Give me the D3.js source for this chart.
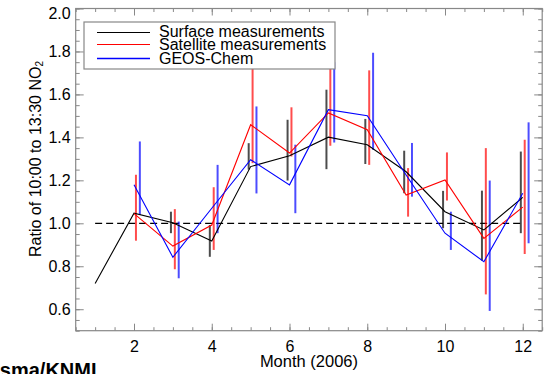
<!DOCTYPE html>
<html>
<head>
<meta charset="utf-8">
<script src="https://cdn.jsdelivr.net/npm/d3@7"></script>
<style>
  body { margin: 0; background: #fff; }
  svg text { font-family: "Liberation Sans", Arial, sans-serif; }
</style>
</head>
<body>
<div id="chart"></div>
<script>
// months on the x axis
var months = [1, 2, 3, 4, 5, 6, 7, 8, 9, 10, 11, 12];

// ratio 10:00 / 13:30 NO2
var surface = [0.72, 1.047, 1.003, 0.918, 1.264, 1.314, 1.401, 1.366, 1.24, 1.054, 0.969, 1.121];
var satellite = [null, 1.045, 0.894, 0.992, 1.459, 1.327, 1.514, 1.436, 1.132, 1.202, 0.93, 1.075];
var geosChem = [null, 1.179, 0.842, 1.07, 1.296, 1.179, 1.529, 1.501, 1.225, 0.954, 0.821, 1.14];

// error bars: low and high ends
var surfaceLo = [null, null, 0.954, 0.844, 1.25, 1.199, 1.252, 1.276, 1.14, 0.977, 0.826, 0.954];
var surfaceHi = [null, null, 1.054, 0.992, 1.373, 1.482, 1.622, 1.486, 1.338, 1.151, 1.152, 1.334];
var satelliteLo = [null, 0.919, 0.786, 0.876, 1.28, 1.311, 1.361, 1.272, 1.031, 1.106, 0.669, 0.857];
var satelliteHi = [null, 1.226, 1.066, 1.168, 1.739, 1.54, 1.726, 1.712, 1.257, 1.33, 1.35, 1.389];
var geosLo = [null, 1.039, 0.744, 0.954, 1.139, 1.047, 1.376, 1.342, 1.124, 0.876, 0.592, 0.907];
var geosHi = [null, 1.381, 1.008, 1.272, 1.544, 1.366, 1.75, 1.794, 1.374, 1.054, 1.199, 1.47];

var xMajor = [2, 4, 6, 8, 10, 12];
var yMajor = [0.6, 0.8, 1.0, 1.2, 1.4, 1.6, 1.8, 2.0];

var series = [
  { name: "Surface measurements", color: "#000000", values: surface, lo: surfaceLo, hi: surfaceHi, shift: -0.05 },
  { name: "Satellite measurements", color: "#ff0000", values: satellite, lo: satelliteLo, hi: satelliteHi, shift: 0.05 },
  { name: "GEOS-Chem", color: "#0000ff", values: geosChem, lo: geosLo, hi: geosHi, shift: 0.15 }
];

var width = 549, height = 374;
var frameColor = "#888";

var svg = d3.select("#chart")
  .append("svg")
  .attr("width", width)
  .attr("height", height);

var x = d3.scaleLinear().domain([0.5, 12.5]).range([75.7, 542.2]);
var y = d3.scaleLinear().domain([0.5, 2.0]).range([330.7, 8.5]);

var x0 = x.range()[0], x1 = x.range()[1];
var y0 = y.range()[0], y1 = y.range()[1];

var xMinor = d3.range(0.5, 12.51, 0.5);
var yMinor = d3.range(0.5, 2.001, 0.05);

function styleAxis(g) {
  g.select(".domain").remove();
  g.selectAll(".tick line").attr("stroke", frameColor);
  g.selectAll(".tick text")
    .attr("fill", "#000")
    .style("font-size", "16px");
}

// minor ticks, all four sides
svg.append("g").attr("transform", "translate(0," + y0 + ")")
  .call(d3.axisBottom(x).tickValues(xMinor).tickSize(-3.5).tickFormat(""))
  .call(styleAxis);
svg.append("g").attr("transform", "translate(0," + y1 + ")")
  .call(d3.axisTop(x).tickValues(xMinor).tickSize(-3.5).tickFormat(""))
  .call(styleAxis);
svg.append("g").attr("transform", "translate(" + x0 + ",0)")
  .call(d3.axisLeft(y).tickValues(yMinor).tickSize(-4).tickFormat(""))
  .call(styleAxis);
svg.append("g").attr("transform", "translate(" + x1 + ",0)")
  .call(d3.axisRight(y).tickValues(yMinor).tickSize(-4).tickFormat(""))
  .call(styleAxis);

// major ticks with labels
svg.append("g").attr("transform", "translate(0," + y0 + ")")
  .call(d3.axisBottom(x).tickValues(xMajor).tickSize(-7).tickPadding(10).tickFormat(d3.format("d")))
  .call(styleAxis);
svg.append("g").attr("transform", "translate(0," + y1 + ")")
  .call(d3.axisTop(x).tickValues(xMajor).tickSize(-7).tickFormat(""))
  .call(styleAxis);
var yAxis = svg.append("g").attr("transform", "translate(" + x0 + ",0)")
  .call(d3.axisLeft(y).tickValues(yMajor).tickSize(-8).tickPadding(5).tickFormat(d3.format(".1f")))
  .call(styleAxis);
// top label sits a little lower, as in the original
yAxis.selectAll(".tick text")
  .filter(function (d) { return d == 2.0; })
  .attr("y", 4.5);
svg.append("g").attr("transform", "translate(" + x1 + ",0)")
  .call(d3.axisRight(y).tickValues(yMajor).tickSize(-8).tickFormat(""))
  .call(styleAxis);

// frame
svg.append("rect")
  .attr("x", x0).attr("y", y1)
  .attr("width", x1 - x0).attr("height", y0 - y1)
  .attr("fill", "none")
  .attr("stroke", frameColor)
  .attr("stroke-width", 1.2);

// reference line at 1.0
svg.append("line")
  .attr("x1", x(1)).attr("x2", x(12))
  .attr("y1", y(1)).attr("y2", y(1))
  .attr("stroke", "#000")
  .attr("stroke-width", 1.2)
  .attr("stroke-dasharray", "7,4");

// error bars
series.forEach(function (s) {
  var bars = months.map(function (m, i) {
    return { m: m, lo: s.lo[i], hi: s.hi[i] };
  }).filter(function (d) { return d.lo != null; });

  svg.append("g")
    .selectAll("line")
    .data(bars)
    .enter()
    .append("line")
    .attr("x1", function (d) { return x(d.m + s.shift); })
    .attr("x2", function (d) { return x(d.m + s.shift); })
    .attr("y1", function (d) { return y(d.lo); })
    .attr("y2", function (d) { return y(d.hi); })
    .attr("stroke", s.color)
    .attr("stroke-opacity", 0.7)
    .attr("stroke-width", 2);
});

// lines
var line = d3.line()
  .defined(function (d) { return d.v != null; })
  .x(function (d) { return x(d.m); })
  .y(function (d) { return y(d.v); });

series.forEach(function (s) {
  var pts = months.map(function (m, i) { return { m: m, v: s.values[i] }; });
  svg.append("path")
    .datum(pts)
    .attr("fill", "none")
    .attr("stroke", s.color)
    .attr("stroke-width", 1.1)
    .attr("d", line);
});

// legend
var legend = svg.append("g").attr("transform", "translate(84,22)");
legend.append("rect")
  .attr("width", 251).attr("height", 47)
  .attr("fill", "#fff")
  .attr("stroke", frameColor)
  .attr("stroke-width", 1.2);

var rowY = [10.5, 22.5, 36.5];
series.forEach(function (s, i) {
  legend.append("line")
    .attr("x1", 13).attr("x2", 66)
    .attr("y1", rowY[i]).attr("y2", rowY[i])
    .attr("stroke", s.color)
    .attr("stroke-width", i == 2 ? 1.6 : 1.1);
  legend.append("text")
    .attr("x", 75)
    .attr("y", rowY[i] + 4 + (i == 0 ? 0 : 1))
    .style("font-size", "16px")
    .text(s.name);
});

// axis titles
svg.append("text")
  .attr("x", (x0 + x1) / 2)
  .attr("y", 367)
  .attr("text-anchor", "middle")
  .style("font-size", "16.5px")
  .text("Month (2006)");

var yTitle = svg.append("text")
  .attr("transform", "translate(41,159) rotate(-90)")
  .attr("text-anchor", "middle")
  .style("font-size", "16px");
yTitle.append("tspan").text("Ratio of 10:00 to 13:30 NO");
yTitle.append("tspan").attr("dy", 2).style("font-size", "10px").text("2");

// credit, cut off at the left edge
svg.append("text")
  .attr("x", 96.5)
  .attr("y", 377)
  .attr("text-anchor", "end")
  .style("font-size", "20px")
  .style("font-weight", "bold")
  .text("Boersma/KNMI");
</script>
</body>
</html>
